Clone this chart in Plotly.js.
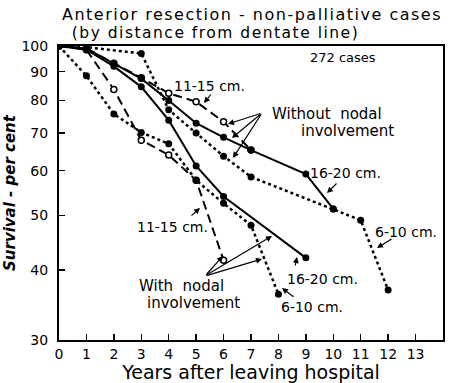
<!DOCTYPE html>
<html>
<head>
<meta charset="utf-8">
<script src="https://cdn.plot.ly/plotly-3.0.1.min.js"></script>
<style>
html,body{margin:0;padding:0;background:#fff;}
#chart{width:449px;height:383px;}
.gtitle{letter-spacing:1.5px;}
g.annotation[data-index="0"] text{letter-spacing:1.5px;}
</style>
</head>
<body>
<div id="chart"></div>
<script>
// ---- data (years after leaving hospital, survival %) ----
var without_11_15_x = [0, 1, 2, 3, 4, 5, 6, 7];
var without_11_15_y = [100, 99, 93.2, 87.8, 82.4, 79.6, 73.3, 65.3];
var without_16_20_x = [0, 1, 2, 3, 4, 5, 6, 7, 9, 10];
var without_16_20_y = [100, 99, 93, 87.5, 80, 72.9, 68.8, 65.3, 59.2, 51.3];
var without_6_10_x = [0, 1, 3, 4, 5, 6, 7, 10, 11, 12];
var without_6_10_y = [100, 99.5, 97, 77, 70, 63.7, 58.5, 51.3, 49, 36.8];
var with_11_15_x = [0, 1, 2, 3, 4, 5, 6];
var with_11_15_y = [100, 98.5, 83.7, 68, 64, 57.7, 41.6];
var with_16_20_x = [0, 1, 2, 3, 4, 5, 6, 9];
var with_16_20_y = [100, 98.5, 92, 84.6, 73.8, 61.2, 54, 42];
var with_6_10_x = [0, 1, 2, 3, 4, 5, 6, 7, 8];
var with_6_10_y = [100, 88.5, 75.7, 70.2, 67, 57.7, 52.5, 48, 36.2];
var xTicks = [0, 1, 2, 3, 4, 5, 6, 7, 8, 9, 10, 11, 12, 13];
var yTicks = [30, 40, 50, 60, 70, 80, 90, 100];

var FONT = '"DejaVu Sans", sans-serif';
function dashedOpen(x, y) {
  return {x: x, y: y, mode: 'lines+markers', type: 'scatter',
    line: {color: '#000', width: 2, dash: '9px,5px'},
    marker: {symbol: 'circle', size: 6, color: '#fff', line: {color: '#000', width: 1.5}},
    hoverinfo: 'skip'};
}
function solid(x, y) {
  return {x: x, y: y, mode: 'lines+markers', type: 'scatter',
    line: {color: '#000', width: 2},
    marker: {symbol: 'circle', size: 7, color: '#000'}, hoverinfo: 'skip'};
}
function dotted(x, y) {
  return {x: x, y: y, mode: 'lines+markers', type: 'scatter',
    line: {color: '#000', width: 2.5, dash: 'dot'},
    marker: {symbol: 'circle', size: 7, color: '#000'}, hoverinfo: 'skip'};
}
var traces = [
  dashedOpen(without_11_15_x, without_11_15_y),
  dashedOpen(with_11_15_x, with_11_15_y),
  dotted(without_6_10_x, without_6_10_y),
  dotted(with_6_10_x, with_6_10_y),
  solid(without_16_20_x, without_16_20_y),
  solid(with_16_20_x, with_16_20_y)
];

// pixel -> paper helpers for annotation placement
var L = 59, R = 443, T = 46, B = 340;
function px(x) { return (x - L) / (R - L); }
function py(y) { return (B - y) / (B - T); }
function label(text, cx, cy, size) {
  return {text: text, x: px(cx), y: py(cy), xref: 'paper', yref: 'paper',
    showarrow: false, xanchor: 'center', yanchor: 'middle',
    font: {family: FONT, size: size || 13, color: '#000'}};
}
function arrow(tipx, tipy, tailx, taily) {
  return {text: '', x: px(tipx), y: py(tipy), xref: 'paper', yref: 'paper',
    ax: tailx - tipx, ay: taily - tipy, showarrow: true,
    arrowhead: 2, arrowsize: 1, arrowwidth: 1.2, arrowcolor: '#000'};
}
var annotations = [
  label('(by distance from dentate line)', 215, 33, 15.5),
  label('272 cases', 343, 57, 13),
  label('11-15 cm.', 209, 86, 14),
  arrow(204, 103, 212, 93),
  label('Without  nodal', 327, 114, 15),
  label('involvement', 347, 131, 15),
  arrow(228, 124, 262, 113),
  arrow(232, 138, 262, 113),
  arrow(233, 158, 262, 113),
  label('16-20 cm.', 345, 173, 14),
  arrow(327, 193, 338, 182),
  label('6-10 cm.', 406, 232, 14),
  arrow(377, 248, 393, 238),
  label('11-15 cm.', 172, 227, 14),
  arrow(200, 208, 190, 217),
  label('With  nodal', 181, 286, 15),
  label('involvement', 193, 303, 15),
  arrow(223, 256, 205, 276),
  arrow(272, 236, 205, 276),
  arrow(262, 259, 205, 276),
  label('16-20 cm.', 322, 279, 14),
  arrow(297, 257, 295, 267),
  label('6-10 cm.', 312, 307, 14),
  arrow(282, 288, 295, 298)
];

var layout = {
  width: 449, height: 383,
  margin: {l: L, r: 449 - R, t: T, b: 383 - B},
  paper_bgcolor: '#fff', plot_bgcolor: '#fff',
  showlegend: false,
  title: {text: 'Anterior resection - non-palliative cases',
    x: 252 / 449, xanchor: 'center', xref: 'container',
    y: 1 - 14 / 383, yanchor: 'middle', yref: 'container',
    font: {family: FONT, size: 16, color: '#000'}},
  xaxis: {range: [0, 14], tickvals: xTicks, ticktext: xTicks.map(String),
    ticks: 'inside', ticklen: 6, tickwidth: 1.5, tickcolor: '#000',
    showline: true, linecolor: '#000', linewidth: 2, mirror: true,
    showgrid: false, zeroline: false,
    tickfont: {family: FONT, size: 14, color: '#000'},
    title: {text: 'Years after leaving hospital', standoff: 2,
      font: {family: FONT, size: 19, color: '#000'}}},
  yaxis: {type: 'log', range: [Math.log10(30), 2], tickvals: yTicks, ticktext: yTicks.map(String),
    ticks: 'inside', ticklen: 6, tickwidth: 1.5, tickcolor: '#000',
    ticklabelstandoff: 6,
    showline: true, linecolor: '#000', linewidth: 2, mirror: true,
    showgrid: false, zeroline: false,
    tickfont: {family: FONT, size: 14, color: '#000'},
    title: {text: '<b><i>Survival - per cent</i></b>', standoff: 2,
      font: {family: FONT, size: 15, color: '#000'}}},
  annotations: annotations
};
Plotly.newPlot('chart', traces, layout, {staticPlot: true, displayModeBar: false});
</script>
</body>
</html>
